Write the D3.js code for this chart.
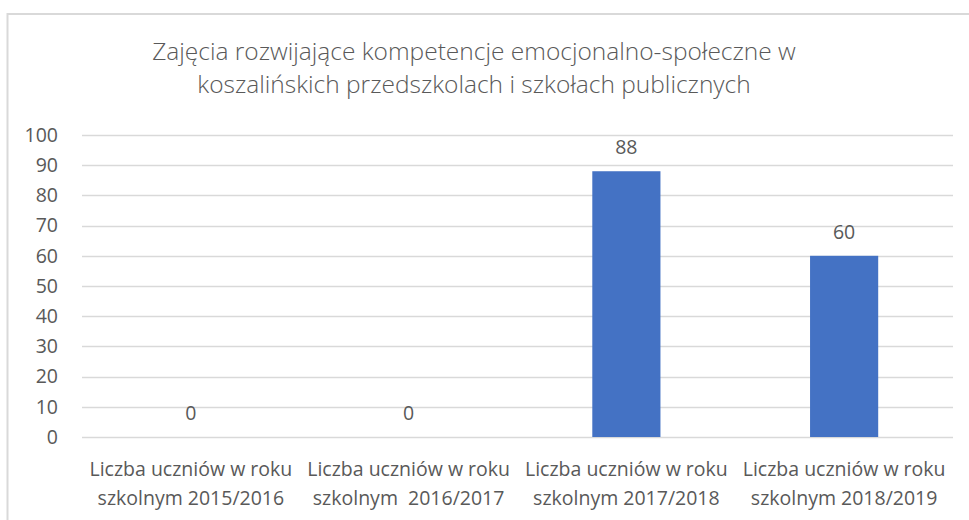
<!DOCTYPE html>
<html>
<head>
<meta charset="utf-8">
<script src="https://cdn.jsdelivr.net/npm/d3@7"></script>
<style>
  html, body { margin: 0; padding: 0; background: #fff; }
  svg { display: block; }
  text { font-family: "Open Sans", "Noto Sans", sans-serif; fill: #595959; white-space: pre; }
</style>
</head>
<body>
<svg id="chart" width="969" height="520"></svg>
<script>
// ── Dane ──
const titleLines = [
  "Zajęcia rozwijające kompetencje emocjonalno-społeczne w",
  "koszalińskich przedszkolach i szkołach publicznych"
];
const categories = [
  ["Liczba uczniów w roku", "szkolnym 2015/2016"],
  ["Liczba uczniów w roku", "szkolnym  2016/2017"],
  ["Liczba uczniów w roku", "szkolnym 2017/2018"],
  ["Liczba uczniów w roku", "szkolnym 2018/2019"]
];
const values = [0, 0, 88, 60];
const yTicks = [0, 10, 20, 30, 40, 50, 60, 70, 80, 90, 100];

const W = 969, H = 520;
const plot = { left: 82, right: 953, top: 135, bottom: 437 };

const svg = d3.select("#chart");

// ramka wykresu (widoczne tylko lewa i górna krawędź)
svg.append("rect")
  .attr("x", 7.5).attr("y", 14)
  .attr("width", W + 20).attr("height", H + 20)
  .attr("fill", "none").attr("stroke", "#d9d9d9").attr("stroke-width", 2);

// ── Tytuł ──
const title = svg.append("g");
titleLines.forEach((t, i) => {
  title.append("text")
    .attr("x", 474).attr("y", 60 + i * 33)
    .attr("text-anchor", "middle")
    .attr("font-size", 24.5).attr("font-weight", 300)
    .text(t);
});

// ── Skale ──
const x = d3.scaleBand()
  .domain(d3.range(categories.length))
  .range([plot.left, plot.right])
  .paddingInner(0.687).paddingOuter(0.3435);

const y = d3.scaleLinear().domain([0, 100]).range([plot.bottom, plot.top]);

// linie siatki
svg.append("g").selectAll("line")
  .data(yTicks).join("line")
  .attr("x1", plot.left).attr("x2", plot.right)
  .attr("y1", d => Math.round(y(d)) + 0.5).attr("y2", d => Math.round(y(d)) + 0.5)
  .attr("stroke", "#d9d9d9").attr("stroke-width", 1.3);

// oś Y
const yAxis = svg.append("g")
  .attr("transform", `translate(${plot.left},0)`)
  .call(d3.axisLeft(y).tickValues(yTicks).tickSize(0).tickPadding(24));
yAxis.select(".domain").remove();
yAxis.selectAll("text")
  .attr("font-size", 19.5).attr("fill", "#595959")
  .style("font-family", "'Open Sans', sans-serif");

// ── Słupki ──
svg.append("g").selectAll("rect")
  .data(values).join("rect")
  .attr("x", (d, i) => x(i))
  .attr("y", d => y(d))
  .attr("width", x.bandwidth())
  .attr("height", d => y(0) - y(d))
  .attr("fill", "#4472c4");

// etykiety wartości
svg.append("g").selectAll("text")
  .data(values).join("text")
  .attr("x", (d, i) => x(i) + x.bandwidth() / 2)
  .attr("y", d => y(d) - 17)
  .attr("text-anchor", "middle")
  .attr("font-size", 19.5)
  .attr("fill", "#404040")
  .text(d => d);

// oś X — etykiety dwuwierszowe
const xLab = svg.append("g").selectAll("text")
  .data(categories).join("text")
  .attr("text-anchor", "middle")
  .attr("font-size", 19.5);
xLab.each(function(lines, i) {
  const t = d3.select(this);
  lines.forEach((l, j) => {
    t.append("tspan")
      .attr("x", x(i) + x.bandwidth() / 2)
      .attr("y", 476 + j * 28.5)
      .text(l);
  });
});
</script>
</body>
</html>
